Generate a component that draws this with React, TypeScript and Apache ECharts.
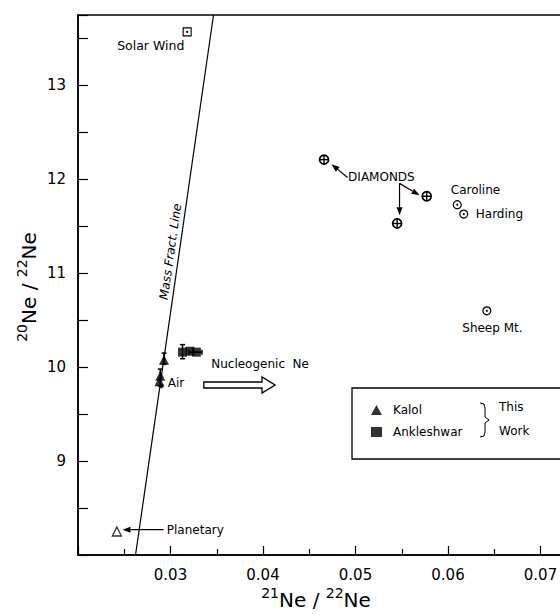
import React, { useEffect, useRef } from 'react';
import * as echarts from 'echarts';

// ---- data (21Ne/22Ne , 20Ne/22Ne) ----
const kalol = [[0.0293, 10.08], [0.0289, 9.91], [0.0288, 9.85]];
const ankleshwar = [[0.0313, 10.16], [0.0321, 10.17], [0.0328, 10.16]];
const air = [[0.0290, 9.80]];
const planetary = [[0.0242, 8.25]];
const solarWind = [[0.0318, 13.57]];
const diamonds = [[0.0466, 12.21], [0.0577, 11.82], [0.0545, 11.53]];
const gasWells = [[0.0610, 11.73], [0.0617, 11.63], [0.0642, 10.60]]; // Caroline, Harding, Sheep Mt.
const massFractLine = [[0.02622, 8.0], [0.03465, 13.75]];
const kalolErrV = [[0.0293, 10.03, 10.15], [0.0289, 9.80, 9.98]];
const ankErrV = [[0.0313, 10.09, 10.24]];
const ankErrH = [[0.0320, 0.0334, 10.16]];
const xLabels = ['0.03', '0.04', '0.05', '0.06', '0.07'];
const yLabels = ['9', '10', '11', '12', '13'];

// annotations anchored in data coordinates
const annotations = [
  { text: 'Solar Wind', at: [0.0315, 13.43], align: 'right', size: 12.5 },
  { text: 'Planetary', at: [0.0296, 8.27], align: 'left' },
  { text: 'Air', at: [0.0297, 9.83], align: 'left' },
  { text: 'Nucleogenic  Ne', at: [0.0344, 10.03], align: 'left' },
  { text: 'DIAMONDS', at: [0.0492, 12.03], align: 'left' },
  { text: 'Caroline', at: [0.0603, 11.89], align: 'left' },
  { text: 'Harding', at: [0.0630, 11.63], align: 'left' },
  { text: 'Sheep Mt.', at: [0.0648, 10.42], align: 'center' },
  { text: 'Mass Fract. Line', at: [0.0300, 11.23], align: 'center', rotate: 81.8, italic: true },
];
const arrows = [
  [0.02924, 8.27, 0.02481, 8.27],
  [0.04914, 12.02, 0.04741, 12.16],
  [0.05476, 11.957, 0.05692, 11.83],
  [0.05476, 11.957, 0.05476, 11.617],
];
const hollowArrow = [[0.0336, 0.0413, 9.81]];

const FONT = 'DejaVu Sans';

export default function App() {
  const ref = useRef<HTMLDivElement>(null);
  useEffect(() => {
    if (!ref.current) return;
    const chart = echarts.init(ref.current, undefined, { renderer: 'svg' });

    const marker = (kind: string) => (params: any, api: any) => {
      const p = api.coord([api.value(0), api.value(1)]);
      const children: any[] = [];
      if (kind === 'circplus') {
        const r = 4.5;
        children.push({ type: 'circle', shape: { cx: p[0], cy: p[1], r }, style: { fill: '#fff', stroke: '#000', lineWidth: 1.7 } });
        children.push({ type: 'line', shape: { x1: p[0] - r, y1: p[1], x2: p[0] + r, y2: p[1] }, style: { stroke: '#000', lineWidth: 1.4 } });
        children.push({ type: 'line', shape: { x1: p[0], y1: p[1] - r, x2: p[0], y2: p[1] + r }, style: { stroke: '#000', lineWidth: 1.4 } });
      } else if (kind === 'circdot') {
        children.push({ type: 'circle', shape: { cx: p[0], cy: p[1], r: 4 }, style: { fill: '#fff', stroke: '#000', lineWidth: 1.2 } });
        children.push({ type: 'circle', shape: { cx: p[0], cy: p[1], r: 1 }, style: { fill: '#000' } });
      } else {
        children.push({ type: 'rect', shape: { x: p[0] - 4, y: p[1] - 4, width: 8, height: 8 }, style: { fill: '#fff', stroke: '#000', lineWidth: 1.1 } });
        children.push({ type: 'circle', shape: { cx: p[0], cy: p[1], r: 1 }, style: { fill: '#000' } });
      }
      return { type: 'group', children };
    };

    const errV = (params: any, api: any) => {
      const lo = api.coord([api.value(0), api.value(1)]);
      const hi = api.coord([api.value(0), api.value(2)]);
      const c = 2.5;
      return {
        type: 'group', children: [
          { type: 'line', shape: { x1: lo[0], y1: lo[1], x2: hi[0], y2: hi[1] }, style: { stroke: '#000', lineWidth: 1.5 } },
          { type: 'line', shape: { x1: lo[0] - c, y1: lo[1], x2: lo[0] + c, y2: lo[1] }, style: { stroke: '#000', lineWidth: 1.5 } },
          { type: 'line', shape: { x1: hi[0] - c, y1: hi[1], x2: hi[0] + c, y2: hi[1] }, style: { stroke: '#000', lineWidth: 1.5 } },
        ],
      };
    };
    const errH = (params: any, api: any) => {
      const lo = api.coord([api.value(0), api.value(2)]);
      const hi = api.coord([api.value(1), api.value(2)]);
      const c = 2.5;
      return {
        type: 'group', children: [
          { type: 'line', shape: { x1: lo[0], y1: lo[1], x2: hi[0], y2: hi[1] }, style: { stroke: '#000', lineWidth: 1.5 } },
          { type: 'line', shape: { x1: lo[0], y1: lo[1] - c, x2: lo[0], y2: lo[1] + c }, style: { stroke: '#000', lineWidth: 1.5 } },
          { type: 'line', shape: { x1: hi[0], y1: hi[1] - c, x2: hi[0], y2: hi[1] + c }, style: { stroke: '#000', lineWidth: 1.5 } },
        ],
      };
    };

    const arrowItem = (params: any, api: any) => {
      const a = api.coord([api.value(0), api.value(1)]);
      const b = api.coord([api.value(2), api.value(3)]);
      const dx = b[0] - a[0], dy = b[1] - a[1];
      const len = Math.sqrt(dx * dx + dy * dy) || 1;
      const ux = dx / len, uy = dy / len;
      const hl = 8, hw = 3;
      const bx = b[0] - ux * hl, by = b[1] - uy * hl;
      return {
        type: 'group', children: [
          { type: 'line', shape: { x1: a[0], y1: a[1], x2: bx, y2: by }, style: { stroke: '#000', lineWidth: 1.2 } },
          { type: 'polygon', shape: { points: [[b[0], b[1]], [bx - uy * hw, by + ux * hw], [bx + uy * hw, by - ux * hw]] }, style: { fill: '#000' } },
        ],
      };
    };

    const hollowItem = (params: any, api: any) => {
      const a = api.coord([api.value(0), api.value(2)]);
      const b = api.coord([api.value(1), api.value(2)]);
      const sh = 3, hh = 8, hl = 13;
      const hx = b[0] - hl;
      return {
        type: 'polygon',
        shape: { points: [[a[0], a[1] - sh], [hx, a[1] - sh], [hx, a[1] - hh], [b[0], b[1]], [hx, a[1] + hh], [hx, a[1] + sh], [a[0], a[1] + sh]] },
        style: { fill: '#fff', stroke: '#000', lineWidth: 1.3 },
      };
    };

    const textItem = (params: any, api: any) => {
      const a: any = annotations[params.dataIndex];
      const p = api.coord([api.value(0), api.value(1)]);
      return {
        type: 'text', x: p[0], y: p[1], rotation: a.rotate ? (a.rotate * Math.PI) / 180 : 0,
        style: {
          text: a.text, fill: '#000', fontSize: a.size || 12, fontFamily: FONT, fontStyle: a.italic ? 'italic' : 'normal',
          align: a.align, verticalAlign: 'middle', textAlign: a.align, textVerticalAlign: 'middle',
        },
      };
    };

    const axisLabelStyle = { color: '#000', fontSize: 15, fontFamily: FONT };

    chart.setOption({
      animation: false,
      grid: {
        left: 78, top: 15, width: 555, height: 540, show: true, borderColor: '#000', borderWidth: 1.5,
        backgroundColor: 'transparent', containLabel: false, outerBoundsMode: 'none',
      },
      legend: {
        data: [{ name: 'Kalol', icon: 'triangle' }, { name: 'Ankleshwar', icon: 'rect' }],
        orient: 'vertical', left: 366, top: 399, itemWidth: 11, itemHeight: 10, itemGap: 10,
        selectedMode: false,
        textStyle: { color: '#000', fontSize: 12, fontFamily: FONT, padding: [0, 0, 0, 6] },
      },
      xAxis: {
        type: 'value', min: 0.02, max: 0.08, interval: 0.01,
        axisLine: { onZero: false, lineStyle: { color: '#000', width: 1.5 } },
        axisTick: { inside: true, length: 9, lineStyle: { color: '#000', width: 1.2 } },
        minorTick: { show: true, splitNumber: 2, length: 6, lineStyle: { color: '#000', width: 1.2 } },
        splitLine: { show: false },
        axisLabel: {
          ...axisLabelStyle, margin: 12,
          formatter: (v: number) => {
            const k = Math.round(v * 100);
            if (Math.abs(v * 100 - k) > 1e-6) return '';
            return xLabels.find((s) => Math.abs(parseFloat(s) - v) < 1e-9) || '';
          },
        },
      },
      yAxis: {
        type: 'value', min: 8, max: 13.75, interval: 0.5,
        axisLine: { onZero: false, lineStyle: { color: '#000', width: 1.5 } },
        axisTick: { inside: true, length: 10, lineStyle: { color: '#000', width: 1.2 } },
        splitLine: { show: false },
        axisLabel: {
          ...axisLabelStyle, margin: 12,
          formatter: (v: number) => yLabels.find((s) => Math.abs(parseFloat(s) - v) < 1e-9) || '',
        },
      },
      graphic: [
        {
          type: 'text', x: 316, y: 598,
          style: {
            text: '{s|21}{n|Ne / }{s|22}{n|Ne}', align: 'center', verticalAlign: 'middle',
            rich: {
              s: { fontSize: 14, fontFamily: FONT, fill: '#000', verticalAlign: 'top', lineHeight: 24 },
              n: { fontSize: 20, fontFamily: FONT, fill: '#000', verticalAlign: 'bottom', lineHeight: 24 },
            },
          },
        },
        {
          type: 'text', x: 27, y: 287, rotation: Math.PI / 2,
          style: {
            text: '{s|20}{n|Ne / }{s|22}{n|Ne}', align: 'center', verticalAlign: 'middle',
            rich: {
              s: { fontSize: 14, fontFamily: FONT, fill: '#000', verticalAlign: 'top', lineHeight: 24 },
              n: { fontSize: 20, fontFamily: FONT, fill: '#000', verticalAlign: 'bottom', lineHeight: 24 },
            },
          },
        },
        { type: 'rect', shape: { x: 352, y: 388, width: 260, height: 71 }, style: { fill: 'none', stroke: '#000', lineWidth: 1.3 } },
        { type: 'polyline', shape: { points: [[480, 403], [484, 404], [485, 408], [485, 417], [489, 420], [485, 423], [485, 432], [484, 436], [480, 437]] }, style: { stroke: '#000', lineWidth: 1, fill: 'none' } },
        { type: 'text', x: 499, y: 407, style: { text: 'This', fill: '#000', fontSize: 12, fontFamily: FONT, verticalAlign: 'middle' } },
        { type: 'text', x: 499, y: 431, style: { text: 'Work', fill: '#000', fontSize: 12, fontFamily: FONT, verticalAlign: 'middle' } },
      ],
      series: [
        { name: 'Mass Fract. Line', type: 'line', data: massFractLine, symbol: 'none', lineStyle: { color: '#000', width: 1.2 }, silent: true },
        { type: 'custom', renderItem: errV, data: kalolErrV },
        { type: 'custom', renderItem: errV, data: ankErrV },
        { type: 'custom', renderItem: errH, data: ankErrH },
        { name: 'Kalol', type: 'scatter', symbol: 'triangle', symbolSize: 10, data: kalol, itemStyle: { color: '#000' } },
        { name: 'Ankleshwar', type: 'scatter', symbol: 'rect', symbolSize: 9, data: ankleshwar, itemStyle: { color: '#000' } },
        { name: 'Air', type: 'scatter', symbol: 'circle', symbolSize: 5, data: air, itemStyle: { color: '#000' } },
        { name: 'Planetary', type: 'scatter', symbol: 'triangle', symbolSize: 9, data: planetary, itemStyle: { color: '#fff', borderColor: '#000', borderWidth: 1.3 } },
        { name: 'Solar Wind', type: 'custom', renderItem: marker('sqdot'), data: solarWind },
        { name: 'Diamonds', type: 'custom', renderItem: marker('circplus'), data: diamonds },
        { name: 'Gas wells', type: 'custom', renderItem: marker('circdot'), data: gasWells },
        { type: 'custom', renderItem: arrowItem, data: arrows },
        { type: 'custom', renderItem: hollowItem, data: hollowArrow },
        { type: 'custom', renderItem: textItem, data: annotations.map((a) => a.at) },
      ],
    });
    return () => chart.dispose();
  }, []);
  return <div ref={ref} style={{ position: 'absolute', left: 0, top: 0, width: 560, height: 615 }} />;
}
